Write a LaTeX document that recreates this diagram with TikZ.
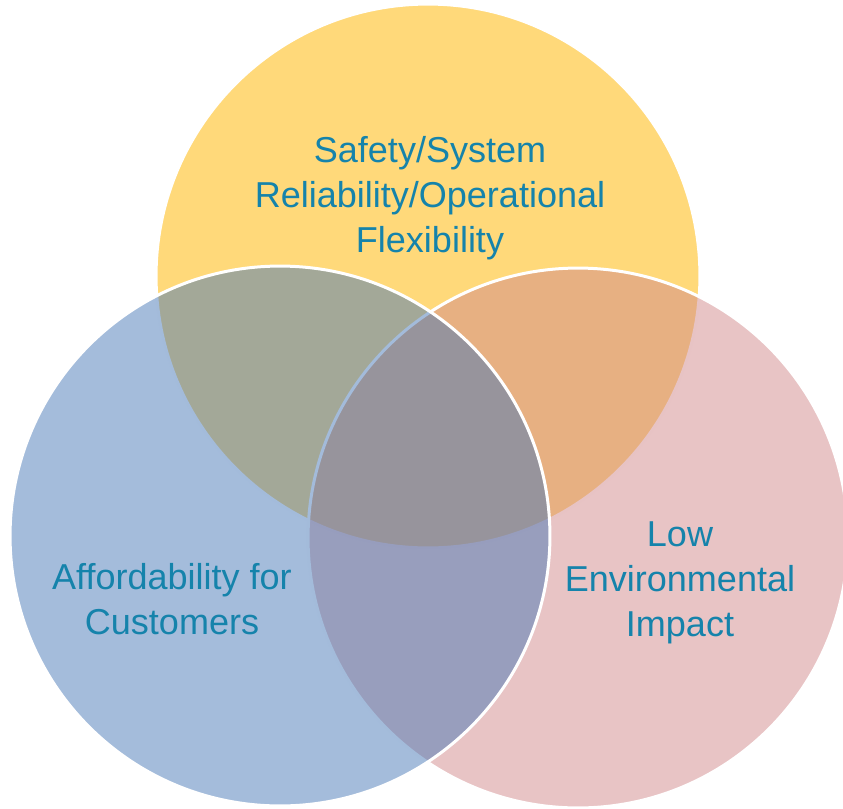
\documentclass[tikz,border=0pt]{standalone}
\usepackage{fontspec}
\setmainfont{Liberation Sans}
\definecolor{safetyfill}{HTML}{FFD97A}
\definecolor{costfill}{HTML}{4979B7}
\definecolor{envfill}{HTML}{D1898B}
\definecolor{labelblue}{HTML}{1583AB}
\tikzset{
  venn/.style={line width=0.06cm, draw=white},
  vennlabel/.style={text=labelblue, align=center, inner sep=0pt,
    font=\fontsize{20.5}{25.5}\selectfont}
}
\begin{document}
\begin{tikzpicture}[x=0.02cm,y=-0.02cm]
  \useasboundingbox (0,0) rectangle (843,809);
  % three overlapping sets
  \fill[safetyfill] (428,276) circle[radius=5.44cm];
  \draw[venn] (428,276) circle[radius=5.44cm];
  \fill[envfill, fill opacity=0.5] (578,538) circle[radius=5.4cm];
  \draw[venn] (578,538) circle[radius=5.4cm];
  \fill[costfill, fill opacity=0.5] (280,536) circle[radius=5.4cm];
  \draw[venn] (280,536) circle[radius=5.4cm];
  % set labels
  \node[vennlabel] (safety) at (430,198) {Safety/System\\Reliability/Operational\\Flexibility};
  \node[vennlabel] (cost) at (172,599) {Affordability for\\Customers};
  \node[vennlabel] (env) at (680,583) {Low\\Environmental\\Impact};
\end{tikzpicture}
\end{document}
